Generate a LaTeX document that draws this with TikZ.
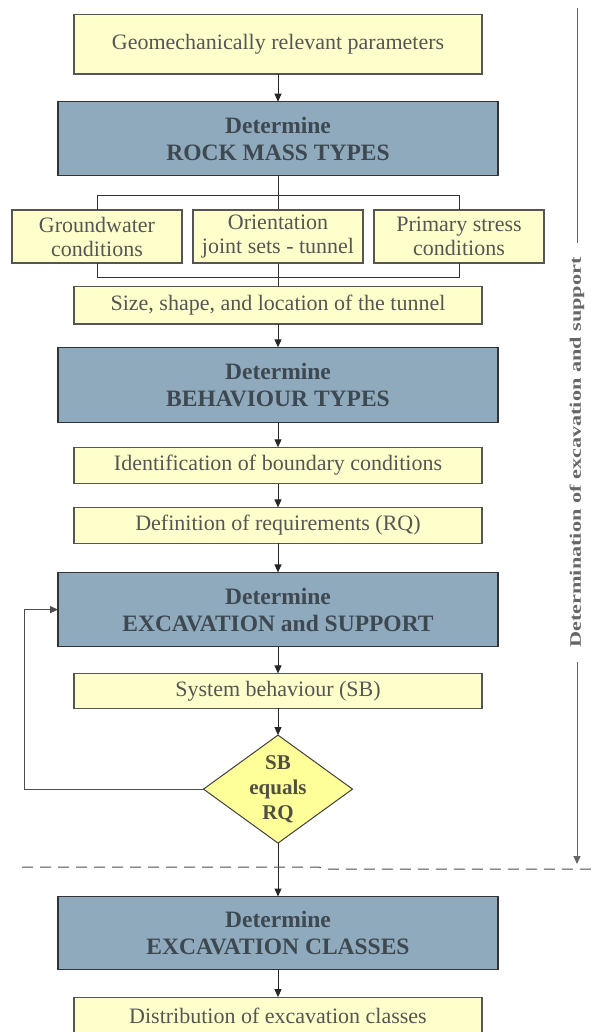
\documentclass[tikz,border=0pt]{standalone}
\usepackage{fontspec}
\setmainfont{Liberation Serif}
\usepackage{tikz}
\usetikzlibrary{arrows.meta,positioning,shapes.geometric,backgrounds}
\usepackage{xcolor}
\usepackage{graphicx}
\definecolor{paleyellow}{HTML}{FFFFCC}
\definecolor{steelblue}{HTML}{8FAABD}
\definecolor{lemon}{HTML}{FFFF99}
\definecolor{inkgray}{HTML}{555555}
\definecolor{bluetext}{HTML}{3E4850}
\definecolor{olivetext}{HTML}{505040}
\newcommand{\detm}{Determine}

\begin{document}
\begin{tikzpicture}[
  ybox/.style={draw=inkgray, line width=1.1pt, fill=paleyellow, text=inkgray, align=center,
    font=\fontsize{22}{24}\selectfont, minimum width=408pt, minimum height=36.5pt,
    inner sep=0pt, outer sep=0pt},
  bbox/.style={draw=black!80, line width=1.1pt, fill=steelblue, text=bluetext, align=center,
    font=\fontsize{23.5}{27}\selectfont\bfseries, minimum width=440pt, minimum height=74pt,
    inner sep=0pt, outer sep=0pt},
  cond/.style={ybox, minimum width=170pt, minimum height=53pt},
  decision/.style={diamond, draw=black!75, line width=1pt, fill=lemon, minimum width=149pt,
    minimum height=108pt, inner sep=0pt, outer sep=0pt},
  dtext/.style={align=center, text=olivetext, font=\fontsize{21}{25}\selectfont\bfseries},
  phase/.style={rotate=90, text=black!60, inner xsep=14pt,
    font=\fontsize{16}{16}\selectfont\bfseries},
  arr/.style={-{Triangle[length=8pt, width=7pt]}, line width=1pt, draw=black!85},
  link/.style={line width=1pt, draw=black!80},
  back/.style={-{Triangle[length=8pt, width=7pt]}, line width=1pt, draw=black!70},
  gline/.style={line width=1pt, draw=black!60},
  sep/.style={line width=1pt, draw=black!70, dash pattern=on 11pt off 7pt}
]
\useasboundingbox (0,0) rectangle (593pt,-1032pt);

\node[ybox, minimum height=59.5pt] (geo) at (278pt,-44.25pt) {Geomechanically relevant parameters};
\node[bbox, below=27.7pt of geo] (rock) {\detm\\ROCK MASS TYPES};
\node[cond, below=34.3pt of rock] (ori) {Orientation\\joint sets - tunnel};
\node[cond, left=11pt of ori] (gw) {Groundwater\\conditions};
\node[cond, right=11pt of ori] (prim) {Primary stress\\conditions};
\node[ybox, below=23.7pt of ori, minimum height=37.3pt] (size) {Size, shape, and location of the tunnel};
\node[bbox, below=23.3pt of size, minimum height=75pt] (behav) {\detm\\BEHAVIOUR TYPES};
\node[ybox, below=25pt of behav] (ident) {Identification of boundary conditions};
\node[ybox, below=23.6pt of ident, minimum height=36pt] (req) {Definition of requirements (RQ)};
\node[bbox, below=29pt of req, minimum height=74.4pt] (exsup) {\detm\\EXCAVATION and SUPPORT};
\node[ybox, below=26.6pt of exsup, minimum height=35pt] (sb) {System behaviour (SB)};
\node[decision, below=26.7pt of sb, label={[dtext]center:{SB\\equals\\RQ}}] (eq) {};
\node[bbox, below=53.4pt of eq, minimum height=73.3pt] (excl) {\detm\\EXCAVATION CLASSES};
\node[ybox, below=27.3pt of excl, minimum height=37pt] (distr) {Distribution of excavation classes};

% phase marker on the right
\node[phase] (phase) at (577pt,-452.5pt) {\scalebox{1.39}[1]{Determination of excavation and support}};
\coordinate (ptop) at (577pt,-8pt);
\coordinate (pend) at (577pt,-864pt);

\begin{scope}[on background layer]
\draw[link] (rock.south) -- (size.north);
\end{scope}
\draw[link] (gw.north) -- ++(0,14pt) -| (prim.north);
\draw[link] (gw.south) -- ++(0,-14pt) -| (prim.south);

\draw[arr] (geo) -- (rock);
\draw[arr] (size) -- (behav);
\draw[arr] (behav) -- (ident);
\draw[arr] (ident) -- (req);
\draw[arr] (req) -- (exsup);
\draw[arr] (exsup) -- (sb);
\draw[arr] (sb) -- (eq);
\draw[arr] (eq) -- (excl);
\draw[arr] (excl) -- (distr);
\draw[back] (eq.west) -| ([xshift=-34pt]exsup.west) -- (exsup.west);

\draw[gline] (ptop) -- (phase.east);
\draw[gline, -{Triangle[length=8pt, width=7pt]}] (phase.west) -- (pend);

\draw[sep] (22pt,-867pt) -- (318pt,-867pt) -- (328pt,-869pt) -- (593pt,-869pt);
\end{tikzpicture}
\end{document}
